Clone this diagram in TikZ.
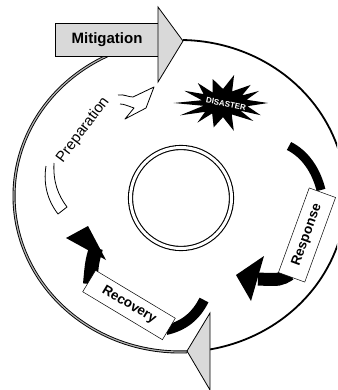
\documentclass[tikz,border=0pt]{standalone}
\usepackage{fontspec}
\setmainfont{Liberation Sans}
\begin{document}
\begin{tikzpicture}[x=1pt,y=-1pt,
  graybox/.style={draw=black, line width=0.8pt, fill=gray!30},
  labelbox/.style={draw=black, line width=0.5pt, fill=white, inner sep=0pt},
  band/.style={line width=#1, line cap=butt},
  hollow/.style={draw=black, line width=0.8pt, fill=white, line join=round},
]
\useasboundingbox (0,0) rectangle (337,390);
\clip (0,0) rectangle (337,390);
% outer cycle: right arc single, left arc double
\draw[line width=1.8pt] plot[domain=-87.6:89, samples=120] ({180+166*cos(\x)},{196-156*sin(\x)});
\draw[line width=0.9pt, double=gray!60, double distance=1.2pt] plot[domain=115:272.4, samples=120] ({180+166*cos(\x)},{196-156*sin(\x)});
% inner ring
\draw[line width=1.1pt, double=white, double distance=3pt] (181,198) circle[radius=50.5pt];
% disaster burst
\fill[black] plot[variable=\k, samples at={0,...,27}] ({223+(45+5*sin(\k*137))*(1-0.5*mod(\k,2))*cos(\k*360/28)}, {103-(26+3*sin(\k*71))*(1-0.5*mod(\k,2))*sin(\k*360/28)}) -- cycle;
\node[text=white, font=\bfseries\fontsize{8}{8}\selectfont, rotate=-12] (disaster) at (226,104) {DISASTER};
% preparation hollow arrow
\draw[hollow] (46,166) .. controls (43,185) and (48,201) .. (58,214) -- (67,207) .. controls (58,195) and (53,182) .. (54,163);
\draw[hollow] (118,95) .. controls (124,94) and (128,97) .. (133,97) -- (154,87) -- (146,108) -- (125,119) -- (134,108) .. controls (128,106) and (124,104) .. (120,104);
\node[font=\fontsize{15}{15}\selectfont, rotate=53] (prep) at (83,130) {Preparation};
% response
\draw[band=9pt] (289,146) .. controls (305,154) and (316,170) .. (321,190);
\draw[band=13pt] (290,274) .. controls (280,280) .. (258,279);
\fill[black] (264,256) -- (236,275) -- (251,301) -- cycle;
\node[labelbox, rotate=70, minimum width=90pt, minimum height=28pt, font=\bfseries\fontsize{13.5}{13.5}\selectfont] (response) at (307,235) {Response};
% recovery
\draw[band=10pt] (166,330) .. controls (184,326) and (196,316) .. (204,300);
\draw[band=14pt] (96,248) .. controls (92,262) .. (90,284);
\fill[black] (66,238) -- (88,226) -- (106,260) -- cycle;
\node[labelbox, rotate=-31, minimum width=93pt, minimum height=25pt, font=\bfseries\fontsize{13.5}{13.5}\selectfont] (recovery) at (129,305) {Recovery};
% mitigation arrow
\draw[graybox] (55,23) rectangle (158,56);
\node[font=\bfseries\fontsize{15}{15}\selectfont] (mitigation) at (107,40) {Mitigation};
\draw[graybox, line join=miter] (158,7) -- (183,41) -- (158,82) -- cycle;
% bottom arrowhead
\draw[graybox] (210,313) -- (187,351) -- (210,390) -- cycle;
\end{tikzpicture}
\end{document}
